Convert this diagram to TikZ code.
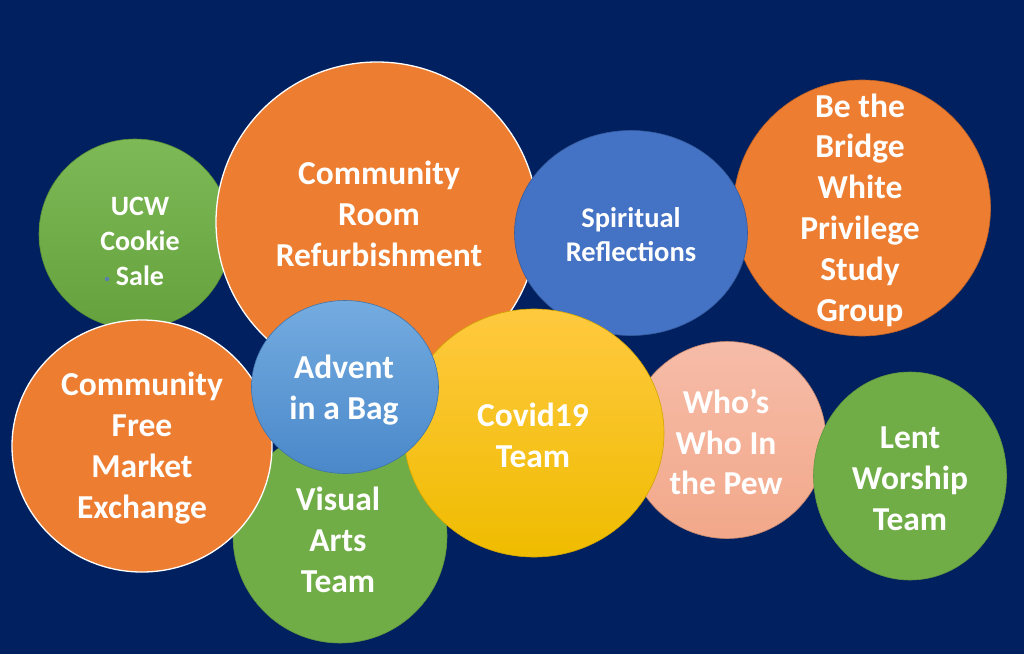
\documentclass[tikz,border=0pt]{standalone}
\usepackage{fontspec}
\setmainfont{Carlito}
\usetikzlibrary{shapes.geometric}
\definecolor{navy}{HTML}{002060}
\definecolor{orng}{HTML}{ED7D31}
\definecolor{grn}{HTML}{70AD47}
\definecolor{grnTop}{HTML}{7DB956}
\definecolor{grnBot}{HTML}{65A23D}
\definecolor{blu}{HTML}{4472C4}
\definecolor{advTop}{HTML}{74ACE0}
\definecolor{advBot}{HTML}{4A88CA}
\definecolor{ylwTop}{HTML}{FFC93F}
\definecolor{ylwBot}{HTML}{EFBC00}
\definecolor{pnkTop}{HTML}{F6BCA8}
\definecolor{pnkBot}{HTML}{F2A88A}
\definecolor{dotc}{HTML}{5A7FA8}
\begin{document}
\begin{tikzpicture}[x=1pt,y=-1pt,
  bub/.style={ellipse, inner sep=0pt, line width=0.6pt},
  lbl/.style={text=white, align=center, inner sep=0pt,
    font=\bfseries\fontsize{33.5}{40.8}\selectfont},
  lblsm/.style={text=white, align=center, inner sep=0pt,
    font=\bfseries\fontsize{28}{35}\selectfont},
]
\fill[navy] (0,0) rectangle (1024,654);
\useasboundingbox (0,0) rectangle (1024,654);

% bubbles, back to front
\node[bub, draw=grnBot!88!black, top color=grnTop, bottom color=grnBot,
  minimum width=192pt, minimum height=190pt] (ucw) at (135,234) {};
\node[bub, fill=orng, draw=white, line width=1.3pt,
  minimum width=322pt, minimum height=320pt] (room) at (377,222) {};
\node[bub, fill=orng, draw=orng!80!black,
  minimum width=257pt, minimum height=256pt] (bridge) at (862,208) {};
\node[bub, fill=blu, draw=blu!80!black,
  minimum width=233pt, minimum height=205pt] (spirit) at (631,233) {};
\node[bub, fill=grn, draw=grn!88!black,
  minimum width=214pt, minimum height=214pt] (visual) at (340,536) {};
\node[bub, fill=orng, draw=white, line width=1.3pt,
  minimum width=260pt, minimum height=252pt] (market) at (142,446) {};
\node[bub, draw=pnkBot!80!black, top color=pnkTop, bottom color=pnkBot,
  minimum width=198pt, minimum height=197pt] (whos) at (727,440) {};
\node[bub, draw=ylwBot!88!black, top color=ylwTop, bottom color=ylwBot,
  minimum width=260pt, minimum height=248pt] (covid) at (534,433) {};
\node[bub, draw=advBot!85!black, top color=advTop, bottom color=advBot,
  minimum width=187pt, minimum height=173pt] (advent) at (345,387) {};
\node[bub, fill=grn, draw=grn!88!black,
  minimum width=193pt, minimum height=208pt] (lent) at (910,476) {};

% labels
\node[lblsm] (ucwT) at (140,241) {UCW\\Cookie\\Sale};
\node[circle, fill=dotc, inner sep=0pt, minimum size=4.5pt] (dot) at (107,279) {};
\node[lbl] (roomT) at (379,214) {Community\\Room\\Refurbishment};
\node[lblsm, font=\bfseries\fontsize{28.5}{34}\selectfont] (spiritT) at (631,235) {Spiritual\\Reflections};
\node[lbl] (bridgeT) at (860,210) {Be the\\Bridge\\White\\Privilege\\Study\\Group};
\node[lbl] (marketT) at (142,448) {Community\\Free\\Market\\Exchange};
\node[lbl] (adventT) at (344,390) {Advent\\in a Bag};
\node[lbl] (covidT) at (533,435) {Covid19\\Team};
\node[lbl] (visualT) at (338,540) {Visual\\Arts\\Team};
\node[lbl] (whosT) at (726,442) {Who’s\\Who In\\the Pew};
\node[lbl] (lentT) at (910,479) {Lent\\Worship\\Team};
\end{tikzpicture}
\end{document}
